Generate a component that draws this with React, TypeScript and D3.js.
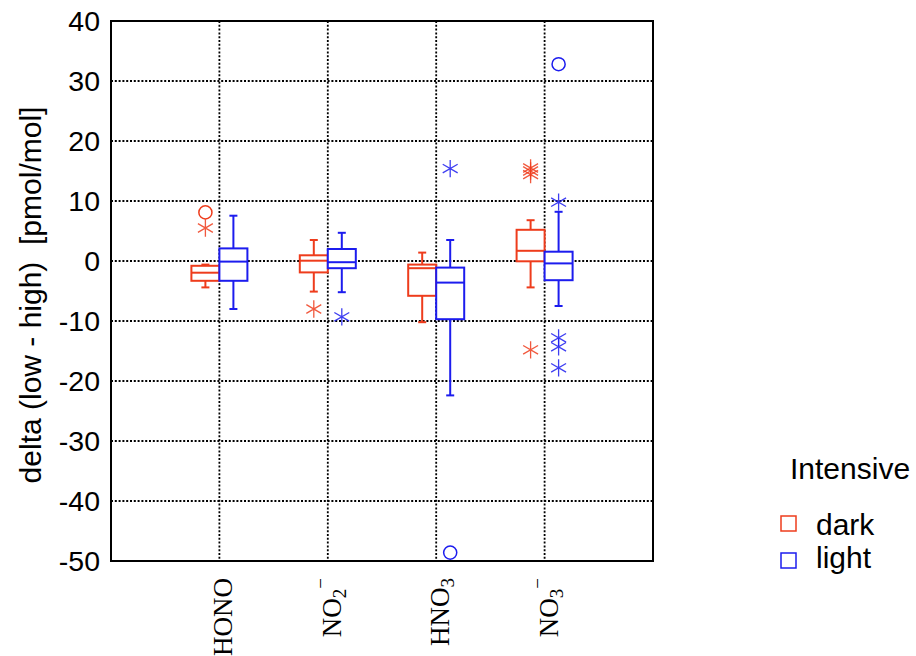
import React, { useEffect, useRef } from "react";
import * as d3 from "d3";

const categories = ["HONO", "NO2-", "HNO3", "NO3-"];
const labelMain = ["HONO", "NO", "HNO", "NO"];
const labelSub = ["", "2", "3", "3"];
const labelSup = ["", "\u2212", "", "\u2212"];
const yTicks = [40, 30, 20, 10, 0, -10, -20, -30, -40, -50];

// dark boxes: whisker low, q1, median, q3, whisker high
const darkMin = [-4.4, -5.1, -10.2, -4.4];
const darkQ1 = [-3.3, -1.9, -5.8, -0.05];
const darkMed = [-1.95, 0.05, -1.2, 1.7];
const darkQ3 = [-0.8, 0.95, -0.6, 5.2];
const darkMax = [-0.6, 3.5, 1.4, 6.8];
const darkStars = [[5.5], [-8.0], [], [14.4, 15.0, 15.5, -14.8]];
const darkCircles = [[8.1], [], [], []];

// light boxes
const lightMin = [-8.0, -5.2, -22.4, -7.5];
const lightQ1 = [-3.3, -1.2, -9.7, -3.2];
const lightMed = [-0.1, -0.2, -3.6, -0.4];
const lightQ3 = [2.1, 2.0, -1.1, 1.55];
const lightMax = [7.55, 4.7, 3.5, 8.2];
const lightStars = [[], [-9.3], [15.4], [9.8, -12.8, -14.3, -17.8]];
const lightCircles = [[], [], [-48.6], [32.8]];

const groups = ["dark", "light"];
const groupColors = ["#ee3c1c", "#1c1cee"];

const W = 916;
const H = 656;
const margin = { left: 111, right: 263, top: 21, bottom: 95 };

export default function App() {
  const svgRef = useRef(null);

  useEffect(() => {
    const svg = d3.select(svgRef.current);
    svg.selectAll("*").remove();

    const x = d3
      .scalePoint()
      .domain(categories)
      .range([margin.left, W - margin.right])
      .padding(1);
    const y = d3
      .scaleLinear()
      .domain([-50, 40])
      .range([H - margin.bottom, margin.top]);
    const boxW = 28;

    // grid
    const grid = svg.append("g").attr("stroke", "#000").attr("stroke-width", 1.8).attr("stroke-dasharray", "2,1.8");
    grid
      .selectAll("line.h")
      .data(yTicks.filter((t) => t !== 40 && t !== -50))
      .join("line")
      .attr("x1", margin.left)
      .attr("x2", W - margin.right)
      .attr("y1", (d) => y(d))
      .attr("y2", (d) => y(d));
    grid
      .selectAll("line.v")
      .data(categories)
      .join("line")
      .attr("x1", (d) => x(d)!)
      .attr("x2", (d) => x(d)!)
      .attr("y1", margin.top)
      .attr("y2", H - margin.bottom);

    // frame
    svg
      .append("rect")
      .attr("x", margin.left)
      .attr("y", margin.top)
      .attr("width", W - margin.right - margin.left)
      .attr("height", H - margin.bottom - margin.top)
      .attr("fill", "none")
      .attr("stroke", "#000")
      .attr("stroke-width", 2);

    // y tick labels
    svg
      .append("g")
      .selectAll("text")
      .data(yTicks)
      .join("text")
      .attr("x", margin.left - 11)
      .attr("y", (d) => y(d))
      .attr("dy", "0.36em")
      .attr("text-anchor", "end")
      .style("font-family", "Arial, 'Liberation Sans', sans-serif")
      .style("font-size", "28.5px")
      .text((d) => String(d));

    // y title
    svg
      .append("text")
      .attr("transform", `translate(41,${(margin.top + H - margin.bottom) / 2 + 4}) rotate(-90)`)
      .attr("text-anchor", "middle")
      .style("font-family", "Arial, 'Liberation Sans', sans-serif")
      .style("font-size", "30px")
      .style("white-space", "pre")
      .text("delta (low - high)  [pmol/mol]");

    // x labels
    const xl = svg
      .append("g")
      .selectAll("text")
      .data(categories)
      .join("text")
      .attr("transform", (d) => `translate(${x(d)! + 13},${H - margin.bottom + 17}) rotate(-90)`)
      .attr("text-anchor", "end")
      .style("font-family", "'Times New Roman', 'Liberation Serif', serif")
      .style("font-size", "27px");
    xl.append("tspan").text((_, i) => labelMain[i]);
    xl.append("tspan")
      .attr("dy", (_, i) => (labelSub[i] ? 5 : 0))
      .style("font-size", "19px")
      .text((_, i) => labelSub[i]);
    xl.append("tspan")
      .attr("dy", (_, i) => (labelSup[i] ? -19 : 0))
      .style("font-size", "19px")
      .text((_, i) => labelSup[i]);

    // boxes
    const stats = [
      [darkMin, darkQ1, darkMed, darkQ3, darkMax, darkStars, darkCircles],
      [lightMin, lightQ1, lightMed, lightQ3, lightMax, lightStars, lightCircles],
    ] as any[];
    const star = d3.symbol(d3.symbolAsterisk, 210)();
    const circ = d3.symbol(d3.symbolCircle, 135)();

    groups.forEach((g, gi) => {
      const [mn, q1, md, q3, mx, stars, circles] = stats[gi];
      const color = groupColors[gi];
      const off = gi === 0 ? -boxW / 2 : boxW / 2;
      const gg = svg.append("g").attr("stroke", color).attr("fill", "none").attr("stroke-width", 2);
      categories.forEach((c, ci) => {
        const cx = x(c)! + off;
        // whiskers
        gg.append("line").attr("x1", cx).attr("x2", cx).attr("y1", y(q3[ci])).attr("y2", y(mx[ci]));
        gg.append("line").attr("x1", cx).attr("x2", cx).attr("y1", y(q1[ci])).attr("y2", y(mn[ci]));
        gg.append("line").attr("x1", cx - 4).attr("x2", cx + 4).attr("y1", y(mx[ci])).attr("y2", y(mx[ci]));
        gg.append("line").attr("x1", cx - 4).attr("x2", cx + 4).attr("y1", y(mn[ci])).attr("y2", y(mn[ci]));
        gg.append("rect")
          .attr("x", cx - boxW / 2)
          .attr("y", y(q3[ci]))
          .attr("width", boxW)
          .attr("height", y(q1[ci]) - y(q3[ci]))
          .attr("fill", "#fff");
        gg.append("line")
          .attr("x1", cx - boxW / 2)
          .attr("x2", cx + boxW / 2)
          .attr("y1", y(md[ci]))
          .attr("y2", y(md[ci]));
        stars[ci].forEach((v: number) => {
          gg.append("path")
            .attr("d", star)
            .attr("transform", `translate(${cx},${y(v)})`)
            .attr("stroke-width", 1.3)
            .attr("opacity", 0.85);
        });
        circles[ci].forEach((v: number) => {
          gg.append("path")
            .attr("d", circ)
            .attr("transform", `translate(${cx},${y(v)})`)
            .attr("stroke-width", 1.5);
        });
      });
    });

    // legend
    const lg = svg.append("g").style("font-family", "Arial, 'Liberation Sans', sans-serif").style("font-size", "30px");
    lg.append("text").attr("x", 790).attr("y", 479).text("Intensive");
    groups.forEach((g, gi) => {
      lg.append("rect")
        .attr("x", 781)
        .attr("y", 516 + gi * 37)
        .attr("width", 15)
        .attr("height", 15)
        .attr("fill", "none")
        .attr("stroke", groupColors[gi])
        .attr("stroke-width", 1.5);
      lg.append("text").attr("x", 816).attr("y", 535 + gi * 33).text(g);
    });
  }, []);

  return <svg ref={svgRef} width={W} height={H} style={{ position: "absolute", left: 0, top: 0, background: "#fff" }} />;
}
